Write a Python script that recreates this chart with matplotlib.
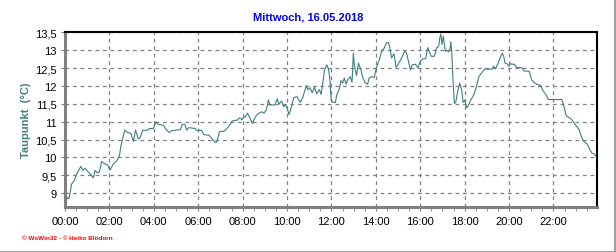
import matplotlib
matplotlib.use("Agg")
import matplotlib.pyplot as plt
from matplotlib.ticker import MultipleLocator, FuncFormatter
from matplotlib.lines import Line2D

# Taupunkt (hours since midnight, degC)
hours = [
    0.03, 0.10, 0.18, 0.30, 0.41, 0.53, 0.71, 0.80, 0.90, 1.13,
    1.28, 1.35, 1.46, 1.55, 1.65, 1.80, 1.91, 2.03, 2.18, 2.33,
    2.45, 2.52, 2.63, 2.70, 2.81, 2.96, 3.00, 3.08, 3.18, 3.30,
    3.38, 3.50, 3.71, 3.80, 3.98, 4.10, 4.20, 4.43, 4.55, 4.70,
    4.81, 5.19, 5.29, 5.40, 5.48, 5.55, 5.66, 5.85, 5.93, 6.15,
    6.25, 6.49, 6.59, 6.74, 6.84, 6.96, 7.19, 7.29, 7.41, 7.53,
    7.78, 7.85, 7.93, 7.97, 8.03, 8.12, 8.22, 8.34, 8.44, 8.56,
    8.67, 8.86, 8.96, 9.07, 9.16, 9.23, 9.45, 9.56, 9.63, 9.75,
    9.85, 9.93, 10.00, 10.09, 10.19, 10.30, 10.45, 10.60, 10.72, 10.87,
    10.94, 11.04, 11.13, 11.24, 11.34, 11.46, 11.54, 11.61, 11.69, 11.79,
    11.88, 11.94, 11.99, 12.09, 12.18, 12.24, 12.36, 12.43, 12.51, 12.58,
    12.66, 12.73, 12.85, 12.93, 12.99, 13.03, 13.13, 13.22, 13.33, 13.40,
    13.52, 13.63, 13.70, 13.82, 13.93, 14.03, 14.15, 14.27, 14.37, 14.48,
    14.57, 14.64, 14.71, 14.82, 14.91, 15.01, 15.16, 15.30, 15.38, 15.45,
    15.56, 15.64, 15.79, 15.90, 16.00, 16.12, 16.24, 16.34, 16.41, 16.49,
    16.64, 16.74, 16.83, 16.89, 16.93, 16.98, 17.04, 17.13, 17.19, 17.27,
    17.35, 17.38, 17.42, 17.48, 17.54, 17.60, 17.67, 17.78, 17.87, 17.93,
    18.01, 18.09, 18.16, 18.27, 18.41, 18.52, 18.64, 18.76, 18.90, 19.08,
    19.23, 19.30, 19.38, 19.50, 19.61, 19.70, 19.76, 19.82, 19.91, 20.00,
    20.06, 20.26, 20.33, 20.60, 20.67, 20.91, 21.02, 21.12, 21.24, 21.42,
    21.55, 21.67, 21.77, 22.00, 22.38, 22.45, 22.58, 22.68, 22.79, 22.98,
    23.14, 23.24, 23.33, 23.44, 23.52, 23.64, 23.74, 23.82, 23.94,
]
taupunkt = [
    8.67, 8.89, 8.85, 9.26, 9.35, 9.54, 9.75, 9.64, 9.70, 9.54,
    9.43, 9.64, 9.57, 9.60, 9.89, 9.82, 9.80, 9.65, 9.82, 9.91,
    10.05, 10.33, 10.62, 10.77, 10.70, 10.68, 10.60, 10.45, 10.77, 10.52,
    10.55, 10.76, 10.76, 10.81, 10.81, 11.00, 10.93, 10.90, 10.78, 10.70,
    10.75, 10.78, 10.93, 10.93, 10.76, 10.83, 10.83, 10.81, 10.76, 10.76,
    10.64, 10.62, 10.55, 10.43, 10.43, 10.72, 10.74, 10.81, 10.90, 11.02,
    11.05, 11.11, 11.09, 11.05, 11.11, 11.14, 11.24, 11.09, 10.95, 11.12,
    11.21, 11.28, 11.24, 11.33, 11.61, 11.47, 11.47, 11.64, 11.49, 11.58,
    11.42, 11.47, 11.38, 11.20, 11.39, 11.67, 11.70, 11.54, 11.70, 12.01,
    11.89, 11.95, 11.81, 11.96, 11.78, 11.90, 11.76, 12.08, 12.45, 12.59,
    12.45, 12.12, 11.60, 11.54, 11.54, 11.75, 11.93, 12.15, 12.08, 12.22,
    12.05, 12.17, 12.26, 12.10, 12.92, 12.59, 12.29, 12.64, 12.45, 12.26,
    12.09, 12.05, 12.22, 12.26, 12.24, 12.52, 12.71, 12.99, 13.05, 13.21,
    13.21, 13.05, 12.78, 12.90, 12.52, 12.61, 12.78, 12.97, 12.93, 12.74,
    12.45, 12.59, 12.61, 12.50, 12.69, 12.76, 12.76, 13.07, 12.97, 12.83,
    12.83, 13.07, 13.11, 13.37, 13.45, 13.16, 13.39, 12.97, 13.00, 12.95,
    13.05, 13.24, 12.95, 12.12, 11.51, 11.54, 11.79, 12.08, 11.89, 11.54,
    11.60, 11.39, 11.44, 11.60, 11.75, 11.95, 12.26, 12.36, 12.47, 12.47,
    12.47, 12.55, 12.48, 12.62, 12.80, 12.92, 12.83, 12.64, 12.62, 12.55,
    12.62, 12.60, 12.52, 12.50, 12.42, 12.41, 12.17, 12.10, 12.05, 12.01,
    11.85, 11.75, 11.62, 11.62, 11.62, 11.49, 11.17, 11.12, 11.09, 10.92,
    10.80, 10.63, 10.47, 10.42, 10.38, 10.22, 10.12, 10.10, 10.03,
]

title = "Mittwoch, 16.05.2018"
ylabel = "Taupunkt  (°C)"
footer = "© WsWin32 - © Heiko Blödorn"

plt.rcParams["font.family"] = ["Liberation Sans", "DejaVu Sans"]

fig = plt.figure(figsize=(6.16, 2.53), dpi=100)
fig.patch.set_facecolor("white")
ax = fig.add_axes([65 / 616, 1 - 207.5 / 253, 531.7 / 616, 174.2 / 253])

ax.plot(hours, taupunkt, color="#3f7f7f", linewidth=0.8)

ax.set_xlim(0, 23.95)
ax.set_ylim(8.63, 13.5)

ax.xaxis.set_major_locator(MultipleLocator(2))
ax.xaxis.set_minor_locator(MultipleLocator(0.5))
ax.xaxis.set_major_formatter(FuncFormatter(lambda v, p: f"{int(round(v)):02d}:00"))
ax.yaxis.set_major_locator(MultipleLocator(0.5))
ax.yaxis.set_major_formatter(FuncFormatter(
    lambda v, p: (f"{v:g}").replace(".", ",")))

ax.grid(True, which="major", color="#808080", linestyle=(0, (3, 3)), linewidth=0.9)
ax.tick_params(axis="both", which="both", colors="#808080", labelcolor="black",
               labelsize=8, direction="out")
ax.tick_params(axis="x", which="major", length=3, pad=4)
ax.tick_params(axis="x", which="minor", length=3)
ax.tick_params(axis="y", which="major", length=3, pad=3)

for side in ("left", "bottom"):
    ax.spines[side].set_color("#808080")
    ax.spines[side].set_linewidth(2.2)
for side in ("top", "right"):
    ax.spines[side].set_color("black")
    ax.spines[side].set_linewidth(1.5)

fig.text(0.5, 1 - 18 / 253, title, ha="center", va="center",
         color="#0000ff", fontsize=8, fontweight="bold")
fig.text(26 / 616, 1 - 120 / 253, ylabel, ha="center", va="center", rotation=90,
         color="#3f7f7f", fontsize=8, fontweight="bold")
fig.text(22 / 616, 1 - 239 / 253, footer, ha="left", va="center",
         color="#ff0000", fontsize=4.6, fontweight="bold")

# grey frame at the right and bottom edge
fig.add_artist(Line2D([0, 1], [0.5 / 253, 0.5 / 253], color="#a0a0a0", linewidth=1.5))
fig.add_artist(Line2D([615.2 / 616, 615.2 / 616], [0, 1], color="#a0a0a0", linewidth=1.5))

fig.savefig("out.png", dpi=100)
